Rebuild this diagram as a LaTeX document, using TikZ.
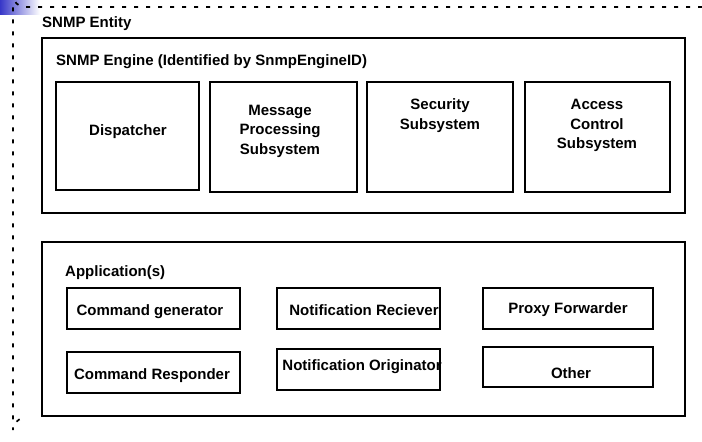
\documentclass[tikz,border=0pt]{standalone}
\usepackage{fontspec}
\setmainfont{Liberation Sans}
\begin{document}
\begin{tikzpicture}[x=1pt,y=-1pt,
  box/.style={draw, line width=1.7pt, inner sep=0pt},
  lbl/.style={font=\bfseries\fontsize{15}{19.5}\selectfont, align=center, inner sep=0pt},
  entity/.style={draw, line width=1.7pt, dash pattern=on 4pt off 8pt}]
  \useasboundingbox (0,0) rectangle (702,442);
  \clip (0,0) rectangle (702,442);
  \fill[white] (0,0) rectangle (702,442);

  % blue corner accent
  \shade[left color={rgb,255:red,55;green,55;blue,200},
         middle color={rgb,255:red,120;green,120;blue,225}, right color=white]
    (0,0) rectangle (40,14);

  % SNMP entity boundary (dashed, open to the right and bottom)
  \draw[entity] (702,7) -- (25,7) arc[start angle=90, end angle=180, radius=12]
    -- (13,430) arc[start angle=180, end angle=260, radius=12];
  \node[lbl, anchor=west] (entitylbl) at (42,24) {SNMP Entity};

  % SNMP engine and its subsystems
  \node[box, minimum width=643pt, minimum height=175pt] (engine) at (363.5,125.5) {};
  \node[lbl, anchor=west] (enginelbl) at (56,62) {SNMP Engine (Identified by SnmpEngineID)};

  \node[box, minimum width=143pt, minimum height=108pt] (disp) at (127.5,136) {};
  \node[box, minimum width=147pt, minimum height=110pt] (mps)  at (283.5,137) {};
  \node[box, minimum width=146pt, minimum height=110pt] (sec)  at (440,137) {};
  \node[box, minimum width=145pt, minimum height=110pt] (acs)  at (597.5,137) {};

  \node[lbl] (displbl) at (128,132) {Dispatcher};
  \node[lbl] (mpslbl)  at (280,131) {Message\\Processing\\Subsystem};
  \node[lbl] (seclbl)  at (440,115.5) {Security\\Subsystem};
  \node[lbl] (acslbl)  at (597,125.5) {Access\\Control\\Subsystem};

  % applications
  \node[box, minimum width=643pt, minimum height=174pt] (apps) at (363.5,329) {};
  \node[lbl, anchor=west] (appslbl) at (65,273) {Application(s)};

  \node[box, minimum width=173pt, minimum height=41pt] (cmdgen)  at (153.5,308.5) {};
  \node[box, minimum width=173pt, minimum height=41pt] (cmdresp) at (153.5,372.5) {};
  \node[box, minimum width=163pt, minimum height=41pt] (notrec)  at (358.5,308.5) {};
  \node[box, minimum width=163pt, minimum height=41pt] (notorig) at (358.5,369.5) {};
  \node[box, minimum width=170pt, minimum height=41pt] (proxy)   at (568,308.5) {};
  \node[box, minimum width=170pt, minimum height=40pt] (other)   at (568,367) {};

  \node[lbl] (cmdgenlbl)  at (150,312) {Command generator};
  \node[lbl] (cmdresplbl) at (152,376) {Command Responder};
  \node[lbl] (notreclbl)  at (364,310) {Notification Reciever};
  \node[lbl] (notoriglbl) at (362,367) {Notification Originator};
  \node[lbl] (proxylbl)   at (568,310) {Proxy Forwarder};
  \node[lbl] (otherlbl)   at (571,373) {Other};
\end{tikzpicture}
\end{document}
